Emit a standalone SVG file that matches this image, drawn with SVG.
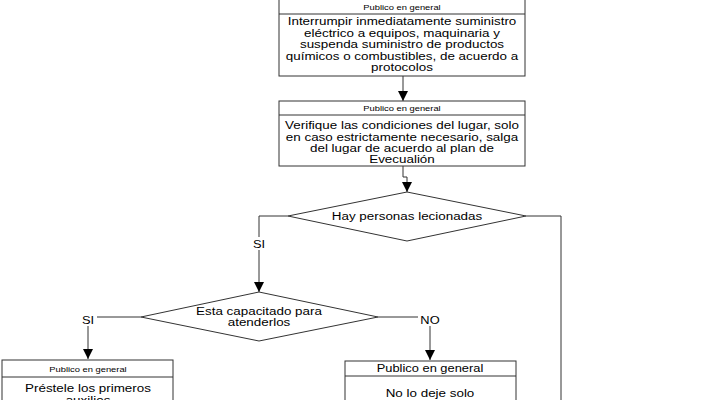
<svg xmlns="http://www.w3.org/2000/svg" width="715" height="400" viewBox="0 0 715 400">
<defs>
<marker id="arr" viewBox="0 0 10 10" refX="10" refY="5" markerWidth="10" markerHeight="10" markerUnits="userSpaceOnUse" orient="auto">
<path d="M0,0 L10,5 L0,10 z" fill="#000"/>
</marker>
<style>
.box{fill:#fff;stroke:#333;stroke-width:1}
.ln{fill:none;stroke:#333;stroke-width:1}
.hd{font-family:"Liberation Sans",Arial,sans-serif;font-size:8px;fill:#000;text-anchor:middle}
.tx{font-family:"Liberation Sans",Arial,sans-serif;font-size:11px;fill:#000;text-anchor:middle}
.lb{font-family:"Liberation Sans",Arial,sans-serif;font-size:11px;fill:#000;text-anchor:middle}
</style>
</defs>
<rect width="715" height="400" fill="#fff"/>
<g id="connectors">
<path class="ln" d="M403,76 L403,101" marker-end="url(#arr)"/>
<path class="ln" d="M403,166 L403,177 L407,177 L407,192" marker-end="url(#arr)"/>
<path class="ln" d="M288,216 L259,216 L259,292" marker-end="url(#arr)"/>
<rect x="251" y="237" width="16" height="13" fill="#fff"/>
<text class="lb" transform="translate(259,248) scale(1.17,1)">SI</text>
<path class="ln" d="M526,216 L561,216 L561,400"/>
<path class="ln" d="M141,317 L88,317 L88,359" marker-end="url(#arr)"/>
<rect x="79" y="313" width="18" height="13" fill="#fff"/>
<text class="lb" transform="translate(88,324) scale(1.17,1)">SI</text>
<path class="ln" d="M378,317 L430,317 L430,360" marker-end="url(#arr)"/>
<rect x="418" y="313" width="24" height="13" fill="#fff"/>
<text class="lb" transform="translate(430,324) scale(1.17,1)">NO</text>
</g>
<g id="node1">
<rect class="box" x="279" y="-1" width="246" height="77"/>
<line class="ln" x1="279" y1="14" x2="525" y2="14"/>
<text class="hd" transform="translate(402,10) scale(1.17,1)">Publico en general</text>
<text class="tx" transform="translate(402,25) scale(1.22,1)">Interrumpir inmediatamente suministro</text>
<text class="tx" transform="translate(402,36.5) scale(1.22,1)">eléctrico a equipos, maquinaria y</text>
<text class="tx" transform="translate(402,48) scale(1.22,1)">suspenda suministro de productos</text>
<text class="tx" transform="translate(402,59.5) scale(1.22,1)">químicos o combustibles, de acuerdo a</text>
<text class="tx" transform="translate(402,71) scale(1.22,1)">protocolos</text>
</g>
<g id="node2">
<rect class="box" x="279" y="101" width="246" height="65"/>
<line class="ln" x1="279" y1="115" x2="525" y2="115"/>
<text class="hd" transform="translate(402,111) scale(1.17,1)">Publico en general</text>
<text class="tx" transform="translate(402,129) scale(1.22,1)">Verifique las condiciones del lugar, solo</text>
<text class="tx" transform="translate(402,140.5) scale(1.22,1)">en caso estrictamente necesario, salga</text>
<text class="tx" transform="translate(402,152) scale(1.22,1)">del lugar de acuerdo al plan de</text>
<text class="tx" transform="translate(402,163) scale(1.22,1)">Evecualión</text>
</g>
<g id="node3">
<polygon class="box" points="407,192 526,216 407,241 288,216"/>
<text class="tx" transform="translate(407,220) scale(1.22,1)">Hay personas lecionadas</text>
</g>
<g id="node4">
<polygon class="box" points="259,292 378,317 259,341 141,317"/>
<text class="tx" transform="translate(259,315) scale(1.22,1)">Esta capacitado para</text>
<text class="tx" transform="translate(259,326) scale(1.22,1)">atenderlos</text>
</g>
<g id="node5">
<rect class="box" x="2" y="360" width="171" height="45"/>
<line class="ln" x1="2" y1="377" x2="173" y2="377"/>
<text class="hd" transform="translate(88,372) scale(1.17,1)">Publico en general</text>
<text class="tx" transform="translate(88,392) scale(1.22,1)">Préstele los primeros</text>
<text class="tx" transform="translate(88,403.5) scale(1.22,1)">auxilios</text>
</g>
<g id="node6">
<rect class="box" x="345" y="361" width="171" height="45"/>
<line class="ln" x1="345" y1="376" x2="516" y2="376"/>
<text class="lb" transform="translate(430,372) scale(1.17,1)">Publico en general</text>
<text class="tx" transform="translate(430,397) scale(1.22,1)">No lo deje solo</text>
</g>
</svg>
